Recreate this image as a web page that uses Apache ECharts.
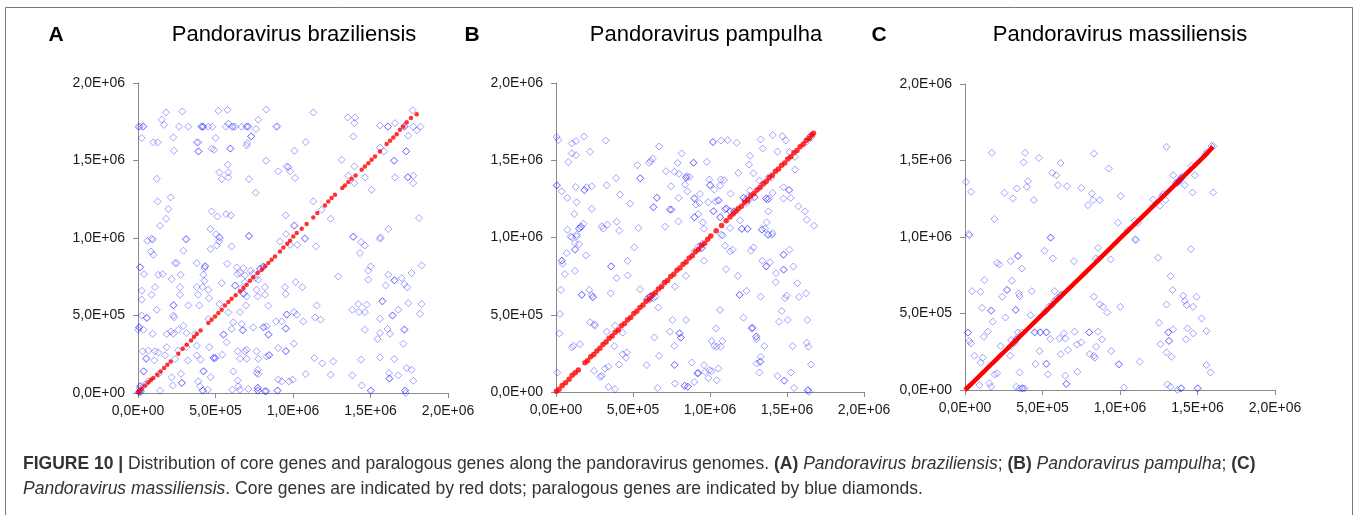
<!DOCTYPE html>
<html>
<head>
<meta charset="utf-8">
<script src="https://cdn.jsdelivr.net/npm/echarts@6/dist/echarts.min.js"></script>
<style>
html,body{margin:0;padding:0;background:#fff;}
#chart{width:1357px;height:515px;}
</style>
</head>
<body>
<div id="chart"></div>
<script>
// Values are genome positions in kb (thousands of bp)
var tickValues = [0, 500, 1000, 1500, 2000];
var panelLetters = ['A', 'B', 'C'];
var panelTitles = ['Pandoravirus braziliensis', 'Pandoravirus pampulha', 'Pandoravirus massiliensis'];

// Panel A: P. braziliensis
var coreA = [[3,5],[6,10],[24,28],[45,49],[67,69],[84,86],[99,96],[125,118],[146,139],[168,161],[189,182],[211,204],[260,253],[288,286],[314,312],[342,339],[361,361],[379,380],[404,404],[454,451],[475,473],[497,494],[518,516],[540,537],[561,565],[583,587],[604,608],[630,630],[658,656],[680,677],[701,699],[723,724],[744,746],[772,774],[798,795],[819,817],[841,838],[862,860],[884,881],[916,913],[938,939],[963,963],[981,982],[1002,1010],[1024,1032],[1056,1060],[1088,1090],[1131,1133],[1157,1161],[1206,1210],[1228,1236],[1249,1258],[1271,1279],[1318,1322],[1335,1339],[1357,1361],[1378,1382],[1404,1404],[1443,1440],[1464,1462],[1486,1483],[1507,1505],[1529,1526],[1561,1558],[1604,1606],[1626,1627],[1647,1649],[1669,1670],[1690,1698],[1712,1720],[1733,1746],[1761,1774],[1798,1799]];
var paraA = [[2,1718],[11,1718],[32,1718],[35,1720],[265,1718],[325,1718],[408,1718],[411,1720],[419,1718],[422,1718],[454,1718],[480,1718],[566,1718],[605,1718],[613,1718],[626,1718],[669,1718],[699,1718],[706,1720],[712,1718],[892,1718],[899,1720],[1611,1718],[1613,1720],[1718,1718],[1720,1720],[1776,1718],[1823,1718],
[181,1810],[286,1816],[518,1821],[577,1827],[828,1829],[1131,1810],[1353,1778],[1400,1778],[1396,1741],[1772,1823],[1658,1741],[1561,1726],[153,1763],[168,1730],[24,1645],[99,1617],[127,1617],[228,1649],[379,1617],[389,1617],[389,1558],[391,1560],[232,1563],[475,1576],[491,1569],[501,1645],[594,1576],[597,1578],[583,1737],[705,1612],[701,1597],[729,1655],[731,1657],[761,1703],[776,1763],[1009,1563],[1082,1619],[1389,1655],[1744,1660],[1798,1694],[1729,1558],[1731,1560],[1651,1498],[1653,1500],[1561,1584],[1587,1558],[1658,1391],[1740,1391],[1742,1393],[1776,1402],[1776,1354],
[826,1498],[959,1462],[970,1457],[981,1430],[905,1430],[1013,1387],[579,1473],[525,1423],[583,1423],[583,1391],[540,1380],[716,1380],[759,1292],[1314,1505],[1396,1462],[1464,1391],[1357,1402],[1396,1354],[1507,1311],[121,1382],[127,1236],[211,1262],[196,1187],[181,1124],[142,1079],[475,1171],[512,1139],[568,1154],[600,1146],[467,1058],[503,1025],[523,1006],[716,1015],[953,1146],[955,1025],[1007,1079],[1009,1081],[1077,999],[1131,1236],[1185,1182],[1243,1124],[1389,1010],[1565,1004],[1615,1058],[1813,1129],[88,995],[310,995],
[60,982],[95,989],[84,913],[99,892],[310,989],[293,918],[529,1000],[523,978],[716,1010],[469,929],[508,952],[604,946],[916,978],[981,956],[1028,956],[1077,995],[1148,946],[1389,1006],[1439,974],[1464,952],[1432,903],[1561,995],
[13,810],[15,812],[39,767],[239,838],[250,838],[379,838],[432,817],[434,819],[428,806],[576,834],[637,810],[658,774],[680,806],[727,789],[740,769],[755,741],[787,800],[789,802],[809,817],[811,815],[776,731],[690,759],[641,767],[131,763],[159,767],[217,735],[275,763],[422,763],[428,724],[1292,752],[1486,789],[1501,817],[1486,731],[1615,763],[1765,774],[1830,823],
[24,660],[110,683],[88,634],[271,683],[271,634],[379,683],[417,683],[389,634],[454,666],[458,612],[540,709],[626,692],[628,694],[669,677],[680,640],[682,642],[701,623],[690,714],[765,666],[772,623],[819,683],[819,634],[948,683],[953,638],[1017,716],[1060,683],[1598,694],[1653,726],[1655,728],[1701,741],[1718,703],[1737,681],
[24,602],[24,499],[56,483],[58,485],[121,537],[228,565],[230,567],[228,499],[234,488],[325,565],[396,565],[525,574],[583,520],[658,522],[697,565],[841,563],[959,505],[961,507],[1006,522],[1024,505],[1153,565],[1142,488],[1178,473],[1383,537],[1421,574],[1426,522],[1475,570],[1464,522],[1561,479],[1576,591],[1578,593],[1641,499],[1643,501],[1679,537],[1744,580],[1830,574],[1819,511],
[6,423],[8,425],[35,408],[2,408],[95,382],[185,380],[213,397],[228,382],[293,434],[260,408],[314,387],[368,382],[615,456],[669,445],[551,376],[553,378],[604,413],[675,404],[677,406],[744,423],[809,423],[811,425],[830,430],[841,376],[843,378],[890,462],[927,462],[953,415],[955,417],[1067,462],[454,477],
[30,269],[67,273],[110,269],[131,262],[185,296],[260,275],[314,296],[379,305],[460,296],[572,327],[643,269],[690,269],[701,279],[765,269],[845,243],[847,245],[905,290],[953,269],[955,271],[1006,318],[1464,408],[1561,387],[1610,413],[1626,382],[1718,408],[1720,410],[1546,348],[1712,318],
[52,221],[54,223],[106,210],[174,243],[239,219],[321,210],[379,243],[404,215],[486,225],[488,227],[497,225],[499,227],[544,247],[658,221],[701,221],[776,221],[830,236],[1138,225],[1189,191],[1260,204],[1439,215],[1561,230],[1653,219],
[35,139],[37,141],[131,122],[217,101],[277,124],[282,64],[284,66],[422,139],[424,141],[469,103],[615,139],[772,150],[765,129],[776,122],[1082,122],[1243,118],[1383,114],[1619,129],[1621,92],[1623,94],[1679,114],[1733,161],[1765,150],[1776,79],
[13,43],[15,45],[45,54],[67,75],[142,15],[224,49],[389,75],[400,43],[417,15],[419,17],[450,21],[609,21],[643,81],[647,43],[658,21],[712,26],[772,32],[774,34],[772,15],[774,17],[819,11],[821,13],[830,11],[899,15],[901,17],[905,86],[927,75],[974,75],[998,86],[1443,49],[1501,15],[1503,17],[1722,15],[1724,17],[1727,0],
[5,5],[10,12],[18,20],[12,30],[8,2],[20,8]];

// Panel B: P. pampulha
var coreB = [[3,5],[20,18],[40,42],[62,60],[85,83],[105,108],[125,124],[145,143],[188,190],[205,203],[225,228],[245,243],[265,266],[285,283],[305,307],[325,323],[345,348],[365,363],[385,387],[405,402],[425,428],[445,443],[465,467],[485,482],[505,508],[525,522],[545,547],[565,563],[585,588],[605,602],[625,628],[645,643],[665,667],[685,682],[705,708],[725,722],[745,747],[765,762],[785,788],[805,802],[825,827],[845,842],[865,868],[885,882],[905,908],[925,922],[945,948],[965,962],[985,988],[1005,1010],[1040,1043],[1075,1078],[1105,1108],[1130,1133],[1150,1152],[1168,1170],[1185,1188],[1205,1203],[1225,1228],[1245,1243],[1265,1268],[1285,1283],[1305,1308],[1325,1323],[1345,1348],[1365,1363],[1385,1388],[1405,1403],[1425,1428],[1445,1443],[1465,1468],[1485,1483],[1505,1508],[1525,1523],[1545,1548],[1565,1563],[1585,1588],[1605,1603],[1625,1628],[1645,1643],[1660,1663],[1672,1675]];
var paraB = [[4,1650],[15,1630],[102,1609],[130,1624],[182,1654],[323,1628],[102,1544],[130,1533],[221,1555],[80,1488],[669,1589],[528,1468],[546,1382],[548,1384],[604,1483],[615,1494],[628,1511],[714,1429],[790,1483],[816,1544],[892,1483],[894,1485],[979,1490],[769,1425],[799,1412],[849,1397],[866,1392],[844,1386],[846,1388],[838,1343],[853,1299],[747,1332],[797,1256],[898,1252],[900,1254],[909,1213],[935,1282],[996,1375],[1000,1338],[1002,1340],[1028,1310],[1070,1375],[1091,1371],[1065,1336],[1134,1284],[1072,1628],[1018,1617],[1020,1619],[1115,1630],[1173,1613],[1184,1418],[1254,1472],[1260,1529],[1282,1416],[1329,1635],[1342,1576],[1407,1663],[1470,1656],[1492,1628],[1438,1555],[1516,1553],[1552,1522],[1552,1440],[1321,1369],[1342,1343],[1477,1325],[1407,1288],[1513,1306],[1515,1308],[1477,1252],[1524,1256],[1383,1252],[1364,1252],[1366,1254],[1373,1245],[1574,1202],[1617,1169],[1628,1115],[1676,1076],
[4,1336],[6,1338],[37,1299],[74,1256],[134,1228],[128,1327],[184,1306],[186,1308],[199,1325],[232,1332],[329,1338],[390,1384],[416,1278],[481,1219],[232,1185],[119,1152],[74,1050],[149,1057],[151,1059],[162,1068],[164,1070],[178,1089],[297,1072],[307,1057],[333,1083],[394,1102],[411,1044],[535,1061],[632,1195],[634,1197],[654,1256],[656,1258],[740,1180],[742,1182],[751,1180],[795,1104],[708,1070],[898,1130],[900,1132],[924,1152],[931,1223],[953,1098],[961,1057],[989,1228],[1022,1169],[1024,1171],[1037,1234],[1054,1239],[1056,1241],[1065,1130],[1067,1132],[1104,1187],[1106,1189],[1130,1169],[1132,1171],[1156,1169],[1158,1171],[1130,1061],[1082,1014],[1195,1111],[1206,1055],[1208,1057],[1243,1055],[1245,1057],[1336,1050],[1338,1052],[1357,1057],[1368,1098],[1379,1169],[1407,1029],[1379,1018],[1256,1271],[1260,1304],[1288,1260],[1290,1262],[1217,1256],[1219,1258],[1228,1241],[1238,1223],[95,1007],[134,1018],[1098,1180],
[37,849],[39,851],[43,830],[58,763],[32,661],[26,505],[22,379],[9,126],[102,1001],[134,1007],[123,964],[149,957],[123,921],[125,923],[69,899],[195,884],[123,784],[357,812],[359,814],[394,737],[465,849],[465,754],[509,936],[216,661],[232,628],[167,628],[169,630],[238,613],[240,615],[355,639],[546,665],[611,617],[613,619],[632,607],[647,617],[665,546],[221,451],[249,438],[253,429],[329,390],[383,429],[433,384],[379,297],[102,288],[113,299],[156,310],[433,245],[459,256],[455,221],[409,178],[247,137],[286,98],[297,104],[318,152],[340,163],[340,33],[383,18],[589,174],[639,353],[669,234],[660,26],[740,390],[756,466],[769,299],[769,174],[771,176],[801,379],[803,381],[810,351],[812,353],[844,466],[881,191],[773,55],[834,39],[836,41],[855,33],[857,35],[898,65],[918,120],[920,122],[924,124],[961,174],[968,130],[989,91],[996,141],[1011,135],[1044,76],[1054,152],[1039,412],[1011,330],[1026,299],[1044,293],[1069,293],[1080,330],[1065,531],[1072,1018],[1098,947],[1130,910],[1147,921],[1104,795],[1180,752],[1191,628],[1193,630],[1217,481],[1238,654],[1271,412],[1273,414],[1277,416],[1299,358],[1301,360],[1303,343],[1353,297],[1325,195],[1327,197],[1303,184],[1329,228],[1321,126],[1266,914],[1282,936],[1329,617],[1340,849],[1364,812],[1366,814],[1390,840],[1429,769],[1427,711],[1477,888],[1479,890],[1477,791],[1479,793],[1516,921],[1541,812],[1567,704],[1578,615],[1498,624],[1487,607],[1505,466],[1466,524],[1448,455],[1537,297],[1438,104],[1481,72],[1483,74],[1546,26],[1526,126],[1624,639],[1632,466],[1628,319],[1639,293],[1656,178],[1635,11],[1637,13],[1643,1],[1375,1018],[1401,1018],[898,910],[961,849],[844,752],[773,682],[697,698],[946,931],[948,933],[924,942],
[589,600],[600,612],[610,598],[620,625],[940,945],[950,960],[1630,1620],[1640,1645],[1650,1655],[1660,1650],[1235,1245],[1250,1240],[1380,1390],[1395,1385]];

// Panel C: P. massiliensis
var coreC = [[0,0],[60,58],[120,118],[180,178],[240,237],[300,297],[360,356],[420,415],[480,475],[540,534],[600,594],[660,653],[720,712],[780,771],[840,830],[900,890],[960,950],[1020,1010],[1080,1069],[1140,1128],[1200,1188],[1260,1247],[1320,1306],[1380,1366],[1440,1425],[1500,1484],[1560,1545],[1600,1590]];
var paraC = [[173,1550],[388,1550],[477,1517],[378,1487],[832,1545],[617,1484],[927,1447],[563,1419],[589,1404],[7,1360],[39,1295],[255,1289],[309,1252],[334,1317],[406,1365],[399,1328],[600,1339],[658,1332],[750,1321],[819,1284],[826,1241],[793,1208],[869,1241],[444,1241],[1005,1267],[190,1117],[24,1019],[556,997],[987,1093],[1095,1106],[1117,1093],[1099,986],[1300,1589],[1602,1593],[1552,1541],[1462,1465],[1483,1404],[1343,1404],[1418,1339],[1468,1291],[1602,1291],[1214,1245],[1257,1204],[1293,1241],[1278,1280],[1375,1360],[1377,1362],[1393,1382],[1395,1384],[1365,1349],[1385,1370],[1400,1395],[1360,1355],
[28,1012],[550,995],[1102,979],[513,910],[567,860],[703,842],[858,929],[940,853],[1246,864],[1457,921],[207,831],[222,820],[294,842],[341,875],[343,877],[367,794],[125,718],[46,646],[100,642],[302,714],[270,653],[272,655],[240,609],[347,631],[352,614],[431,646],[578,646],[832,609],[869,559],[890,544],[918,507],[1002,544],[1326,744],[1339,653],[1408,616],[1418,583],[1429,555],[1494,609],[1300,559],[1472,544],[1526,468],[1252,439],[1558,385],[110,537],[168,518],[170,520],[179,446],[261,474],[326,522],[328,524],[423,489],[147,381],[121,348],[18,374],[20,376],[28,320],[39,304],[229,287],[294,283],[291,224],[61,224],[115,211],[100,178],[369,376],[341,376],[449,376],[451,378],[485,376],[487,378],[524,376],[526,378],[550,333],[610,337],[638,370],[707,381],[647,337],[722,298],[750,311],[800,376],[802,378],[858,381],[847,283],[884,331],[617,233],[664,261],[481,254],[804,235],[832,224],[837,211],[944,254],[992,167],[994,169],[1127,185],[455,170],[524,170],[526,172],[352,115],[535,102],[647,93],[653,39],[655,41],[725,119],[1261,300],[1311,376],[1313,378],[1315,320],[1317,322],[1343,396],[1332,217],[1300,246],[1472,370],[1425,331],[1436,402],[1558,163],[1584,115],[190,102],[207,109],[158,43],[168,21],[93,32],[330,21],[352,10],[369,10],[371,12],[384,10],[1026,15],[1306,37],[1326,21],[1393,10],[1395,12],[1371,0],[1500,10],[1502,12],[298,326],[319,315],
[520,515],[540,545],[560,555],[575,580],[590,595],[605,600],[615,620],[625,625],[320,310],[330,330],[340,345],[845,860],[860,855],[1050,1045],[1270,1265],[1560,1555],[1590,1595]];

function sci(v) {
  if (v === 0) return '0,0E+00';
  var n = v * 1000;
  var e = Math.floor(Math.log10(n) + 1e-9);
  var m = n / Math.pow(10, e);
  return m.toFixed(1).replace('.', ',') + 'E+' + (e < 10 ? '0' : '') + e;
}

var FONT = '"Liberation Sans", Arial, Helvetica, sans-serif';
var grids = [
  {left: 138, top: 83, width: 310, height: 310},
  {left: 556, top: 83, width: 308, height: 309},
  {left: 965, top: 84, width: 310, height: 306}
];
var axisCommon = {
  type: 'value', min: tickValues[0], max: tickValues[tickValues.length - 1], interval: tickValues[1] - tickValues[0],
  axisLine: {show: true, lineStyle: {color: '#8a8a8a', width: 1}},
  axisTick: {show: true, inside: false, length: 5, lineStyle: {color: '#8a8a8a'}},
  splitLine: {show: false},
  axisLabel: {formatter: sci, fontFamily: FONT, fontSize: 14, color: '#1a1a1a'}
};
var xAxes = [], yAxes = [];
for (var i = 0; i < 3; i++) {
  xAxes.push(Object.assign({}, axisCommon, {gridIndex: i, axisLabel: Object.assign({}, axisCommon.axisLabel, {margin: 11})}));
  yAxes.push(Object.assign({}, axisCommon, {gridIndex: i, axisLabel: Object.assign({}, axisCommon.axisLabel, {margin: 13})}));
}
var paraStyle = {color: 'rgba(0,0,0,0)', borderColor: 'rgba(20,20,255,0.5)', borderWidth: 1};
var paraSets = [paraA, paraB, paraC];
var series = [];
for (var j = 0; j < 3; j++) {
  series.push({type: 'scatter', xAxisIndex: j, yAxisIndex: j, data: paraSets[j], symbol: 'diamond', symbolSize: 7, itemStyle: paraStyle, silent: true, z: 2});
}
series.push({type: 'scatter', xAxisIndex: 0, yAxisIndex: 0, data: coreA, symbol: 'circle', symbolSize: 4.5, itemStyle: {color: '#ff0000'}, silent: true, z: 3});
series.push({type: 'scatter', xAxisIndex: 1, yAxisIndex: 1, data: coreB, symbol: 'circle', symbolSize: 5.5, itemStyle: {color: '#ff0000'}, silent: true, z: 3});
series.push({type: 'line', xAxisIndex: 2, yAxisIndex: 2, data: coreC, showSymbol: false, lineStyle: {color: '#ff0000', width: 4.5}, silent: true, z: 3});

var letterX = [56, 472, 879];
var titleX = [294, 706, 1120];
var graphics = [
  {type: 'rect', shape: {x: 5.5, y: 7.5, width: 1347, height: 520}, style: {fill: 'none', stroke: '#777', lineWidth: 1}, silent: true}
];
for (var k = 0; k < 3; k++) {
  graphics.push({type: 'text', x: letterX[k], y: 35, style: {text: panelLetters[k], fontFamily: FONT, fontWeight: 'bold', fontSize: 21, fill: '#000', textAlign: 'center', textVerticalAlign: 'middle'}});
  graphics.push({type: 'text', x: titleX[k], y: 35, style: {text: panelTitles[k], fontFamily: FONT, fontSize: 22, fill: '#000', textAlign: 'center', textVerticalAlign: 'middle'}});
}
var capRich = {
  b: {fontFamily: FONT, fontWeight: 'bold', fontSize: 17.5, fill: '#333'},
  n: {fontFamily: FONT, fontSize: 17.5, fill: '#333'},
  i: {fontFamily: FONT, fontStyle: 'italic', fontSize: 17.5, fill: '#333'}
};
graphics.push({type: 'text', x: 23, y: 464, style: {text: '{b|FIGURE 10 | }{n|Distribution of core genes and paralogous genes along the pandoravirus genomes. }{b|(A)}{n| }{i|Pandoravirus braziliensis}{n|; }{b|(B)}{n| }{i|Pandoravirus pampulha}{n|; }{b|(C)}', rich: capRich, textVerticalAlign: 'middle'}});
graphics.push({type: 'text', x: 23, y: 489, style: {text: '{i|Pandoravirus massiliensis}{n|. Core genes are indicated by red dots; paralogous genes are indicated by blue diamonds.}', rich: capRich, textVerticalAlign: 'middle'}});

var chart = echarts.init(document.getElementById('chart'), null, {renderer: 'canvas'});
chart.setOption({
  animation: false,
  backgroundColor: '#fff',
  grid: grids,
  xAxis: xAxes,
  yAxis: yAxes,
  series: series,
  graphic: graphics
});
</script>
</body>
</html>
